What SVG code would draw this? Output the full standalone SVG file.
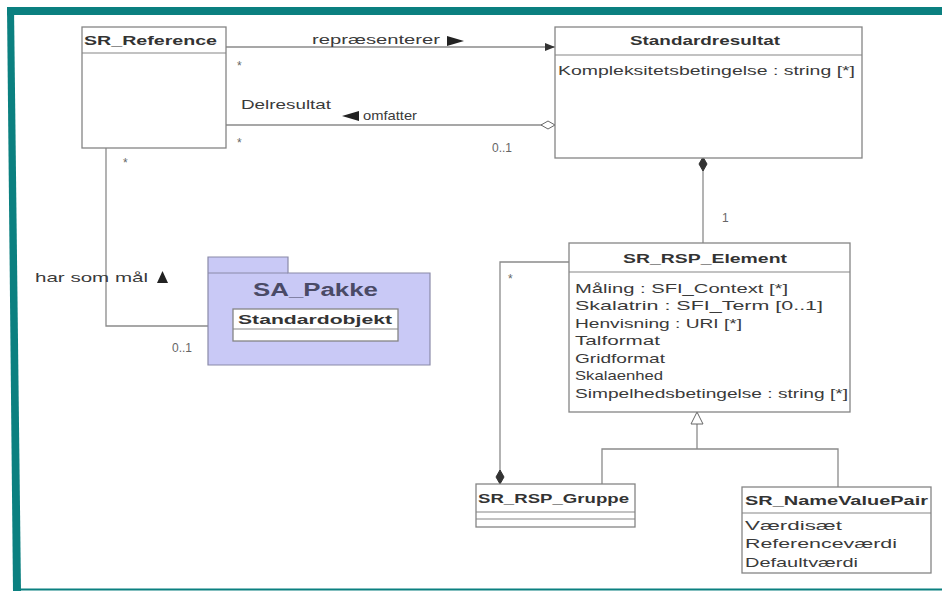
<svg xmlns="http://www.w3.org/2000/svg" width="942" height="591" viewBox="0 0 942 591">
<style>
.box{fill:#fff;stroke:#858585;stroke-width:1.3}
.sep{stroke:#858585;stroke-width:1.2}
.ln{fill:none;stroke:#8a8a8a;stroke-width:1.3}
.t{font-family:"Liberation Sans",Arial,sans-serif;font-size:13px;fill:#3a3a3a}
.b{font-family:"Liberation Sans",Arial,sans-serif;font-size:13px;font-weight:bold;fill:#333}
.m{font-family:"Liberation Sans",Arial,sans-serif;font-size:12px;fill:#666}
</style>
<defs>
<marker id="fd" markerWidth="16" markerHeight="10" refX="15" refY="5" orient="auto" markerUnits="userSpaceOnUse"><path d="M1,5 L8,1 L15,5 L8,9 Z" fill="#333" stroke="#333"/></marker>
<marker id="od" markerWidth="16" markerHeight="10" refX="15" refY="5" orient="auto" markerUnits="userSpaceOnUse"><path d="M1,5 L8,1 L15,5 L8,9 Z" fill="#fff" stroke="#666"/></marker>
<marker id="fa" markerWidth="12" markerHeight="10" refX="11" refY="5" orient="auto" markerUnits="userSpaceOnUse"><path d="M1,1 L11,5 L1,9 Z" fill="#333"/></marker>
<marker id="tri" markerWidth="16" markerHeight="14" refX="13" refY="7" orient="auto" markerUnits="userSpaceOnUse"><path d="M1,1 L13,7 L1,13 Z" fill="#fff" stroke="#666"/></marker>
</defs>
<rect width="942" height="591" fill="#fff"/>
<g id="frame">
<rect x="7" y="7" width="935" height="8" fill="#0b8080"/>
<polygon points="7,7 14,7 21,591 13,591" fill="#0b8080"/>
<line x1="20" y1="589.5" x2="942" y2="589.5" stroke="#0b8080" stroke-width="2"/>
</g>
<g id="connectors">
<line class="ln" x1="226" y1="47" x2="555" y2="47" marker-end="url(#fa)"/>
<line class="ln" x1="226" y1="125" x2="555" y2="125" marker-end="url(#od)"/>
<polyline class="ln" points="106,148 106,326 233,326"/>
<line class="ln" x1="703" y1="243" x2="703" y2="157" marker-end="url(#fd)"/>
<polyline class="ln" points="569,262 500,262 500,484" marker-end="url(#fd)"/>
<polyline class="ln" points="602,485 602,449 838,449 838,487"/>
<line class="ln" x1="697" y1="449" x2="697" y2="412" marker-end="url(#tri)"/>
<text class="t" x="312" y="44" textLength="128" lengthAdjust="spacingAndGlyphs">repræsenterer</text>
<path d="M447,36 L464,41 L447,46 Z" fill="#222"/>
<text class="m" x="237" y="70">*</text>
<text class="t" x="241" y="109" textLength="90" lengthAdjust="spacingAndGlyphs">Delresultat</text>
<path d="M359,111 L342,116 L359,121 Z" fill="#222"/>
<text class="t" x="363" y="120" textLength="54" lengthAdjust="spacingAndGlyphs">omfatter</text>
<text class="m" x="237" y="147">*</text>
<text class="m" x="492" y="152">0..1</text>
<text class="m" x="123" y="167">*</text>
<text class="t" x="35" y="282" textLength="113" lengthAdjust="spacingAndGlyphs">har som mål</text>
<path d="M157,283 L162.5,271 L168,283 Z" fill="#222"/>
<text class="m" x="172" y="352">0..1</text>
<text class="m" x="722" y="222">1</text>
<text class="m" x="508" y="283">*</text>
</g>
<g id="SR_Reference">
<rect class="box" x="82" y="27" width="144" height="121"/>
<line class="sep" x1="82" y1="53" x2="226" y2="53"/>
<text class="b" x="84" y="45" textLength="133" lengthAdjust="spacingAndGlyphs">SR_Reference</text>
</g>
<g id="Standardresultat">
<rect class="box" x="555" y="27" width="307" height="131"/>
<line class="sep" x1="555" y1="55" x2="862" y2="55"/>
<text class="b" x="630" y="45" textLength="150" lengthAdjust="spacingAndGlyphs">Standardresultat</text>
<text class="t" x="558" y="75" textLength="297" lengthAdjust="spacingAndGlyphs">Kompleksitetsbetingelse : string [*]</text>
</g>
<g id="SA_Pakke">
<path d="M208,257 H288 V273 H430 V365 H208 Z" fill="#c9c9f6" stroke="#8a8aa8" stroke-width="1.2"/>
<line x1="208" y1="273" x2="288" y2="273" stroke="#8a8aa8" stroke-width="1"/>
<text x="253" y="296" textLength="125" lengthAdjust="spacingAndGlyphs" font-family="Liberation Sans,Arial,sans-serif" font-size="18" font-weight="bold" fill="#4a4a66">SA_Pakke</text>
<g id="Standardobjekt">
<rect class="box" x="233" y="309" width="165" height="32"/>
<line class="sep" x1="233" y1="329" x2="398" y2="329"/>
<text class="b" x="238" y="324" font-size="12" textLength="154" lengthAdjust="spacingAndGlyphs">Standardobjekt</text>
</g>
</g>
<g id="SR_RSP_Element">
<rect class="box" x="569" y="243" width="281" height="169"/>
<line class="sep" x1="569" y1="272" x2="850" y2="272"/>
<text class="b" x="623" y="263" textLength="164" lengthAdjust="spacingAndGlyphs">SR_RSP_Element</text>
<text class="t" x="575" y="293" textLength="213" lengthAdjust="spacingAndGlyphs">Måling : SFI_Context [*]</text>
<text class="t" x="575" y="310" textLength="248" lengthAdjust="spacingAndGlyphs">Skalatrin : SFI_Term [0..1]</text>
<text class="t" x="575" y="328" textLength="167" lengthAdjust="spacingAndGlyphs">Henvisning : URI [*]</text>
<text class="t" x="575" y="345" textLength="85" lengthAdjust="spacingAndGlyphs">Talformat</text>
<text class="t" x="575" y="363" textLength="90" lengthAdjust="spacingAndGlyphs">Gridformat</text>
<text class="t" x="575" y="380" textLength="88" lengthAdjust="spacingAndGlyphs">Skalaenhed</text>
<text class="t" x="575" y="398" textLength="273" lengthAdjust="spacingAndGlyphs">Simpelhedsbetingelse : string [*]</text>
</g>
<g id="SR_RSP_Gruppe">
<rect class="box" x="476" y="484" width="159" height="43"/>
<line class="sep" x1="476" y1="512" x2="635" y2="512"/>
<line class="sep" x1="476" y1="519" x2="635" y2="519"/>
<text class="b" x="478" y="503" textLength="151" lengthAdjust="spacingAndGlyphs">SR_RSP_Gruppe</text>
</g>
<g id="SR_NameValuePair">
<rect class="box" x="742" y="487" width="189" height="86"/>
<line class="sep" x1="742" y1="513" x2="931" y2="513"/>
<text class="b" x="745" y="505" textLength="183" lengthAdjust="spacingAndGlyphs">SR_NameValuePair</text>
<text class="t" x="745" y="530" textLength="97" lengthAdjust="spacingAndGlyphs">Værdisæt</text>
<text class="t" x="745" y="548" textLength="152" lengthAdjust="spacingAndGlyphs">Referenceværdi</text>
<text class="t" x="745" y="567" textLength="113" lengthAdjust="spacingAndGlyphs">Defaultværdi</text>
</g>
</svg>
